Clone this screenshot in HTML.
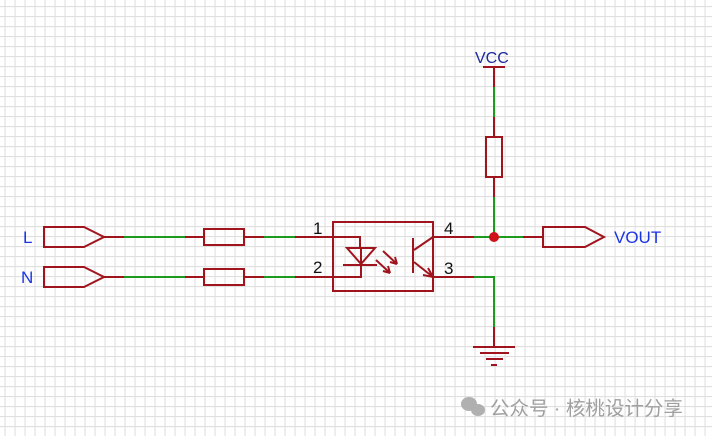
<!DOCTYPE html>
<html><head><style>
html,body{margin:0;padding:0;background:#fff;}
svg{display:block;}
</style></head><body>
<svg width="712" height="436" viewBox="0 0 712 436" xmlns="http://www.w3.org/2000/svg">
<defs>
<pattern id="g" x="4.5" y="6" width="10" height="10" patternUnits="userSpaceOnUse">
<path d="M0.5 0V10M0 0.5H10" stroke="#e0e0e0" stroke-width="1.2" fill="none"/>
</pattern>
</defs>
<rect width="712" height="436" fill="#fff"/>
<rect width="712" height="436" fill="url(#g)"/>
<g stroke-width="2" fill="none" stroke-linecap="butt">
<path d="M104 237H124M185 237H204M244 237H264M295 237H333" stroke="#a0141e"/>
<path d="M124 237H185M264 237H295" stroke="#1e9a1e"/>
<path d="M104 277H124M185 277H204M244 277H264M295 277H333" stroke="#a0141e"/>
<path d="M124 277H185M264 277H295" stroke="#1e9a1e"/>
<path d="M44 227H84L104 237L84 247H44Z" stroke="#a0141e"/>
<path d="M44 267H84L104 277L84 287H44Z" stroke="#a0141e"/>
<path d="M543 227H585L604 237L585 247H543Z" stroke="#a0141e"/>
<rect x="204" y="229" width="40" height="16" stroke="#a0141e"/>
<rect x="204" y="269" width="40" height="16" stroke="#a0141e"/>
<rect x="486" y="137" width="16" height="40" stroke="#a0141e"/>
<rect x="333" y="222" width="100" height="69" stroke="#a0141e"/>
<path d="M333 237H360V248M347 248H375L361 264ZM343 265H377M361 248V277H333" stroke="#a0141e"/>
<path d="M383 251L397 264M376 260L390 273" stroke="#a0141e"/>
<path d="M397 264L390 262M397 264L395 257M390 273L383 271M390 273L388 266" stroke="#a0141e"/>
<path d="M413 238V273M414 250L433 237M414 262L433 277" stroke="#a0141e"/>
<path d="M433 277L423 275M433 277L428 268" stroke="#a0141e"/>
<path d="M433 237H474M433 277H474" stroke="#a0141e"/>
<path d="M474 237H523M474 277H494V327" stroke="#1e9a1e"/>
<path d="M523 237H543" stroke="#a0141e"/>
<path d="M494 87V117M494 197V237" stroke="#1e9a1e"/>
<path d="M494 67V87M494 117V137M494 177V197M483 67H505" stroke="#a0141e"/>
<path d="M494 327V347M473 347H515M480 353H509M486 359H503M491 365H497" stroke="#a0141e"/>
</g>
<circle cx="494" cy="237" r="5" fill="#d0101a"/>
<g font-family="Liberation Sans, sans-serif" font-size="17">
<text x="23" y="243" fill="#1a33e6">L</text>
<text x="21" y="283" fill="#1a33e6">N</text>
<text x="614" y="243" fill="#1a33e6">VOUT</text>
<text x="475" y="63" fill="#1a2a99" font-size="16">VCC</text>
<text x="313" y="234" fill="#111">1</text>
<text x="313" y="273" fill="#111">2</text>
<text x="444" y="234" fill="#111">4</text>
<text x="444" y="274" fill="#111">3</text>
</g>
<g fill="#b0b0b0">
<ellipse cx="469" cy="404" rx="8" ry="7"/>
<ellipse cx="478" cy="410" rx="7" ry="6"/>
</g>
<text x="490" y="415" fill="#a0a0a0" font-family="Liberation Sans, 'Noto Sans CJK SC', sans-serif" font-size="19.5">公众号 · 核桃设计分享</text>
</svg>
</body></html>
